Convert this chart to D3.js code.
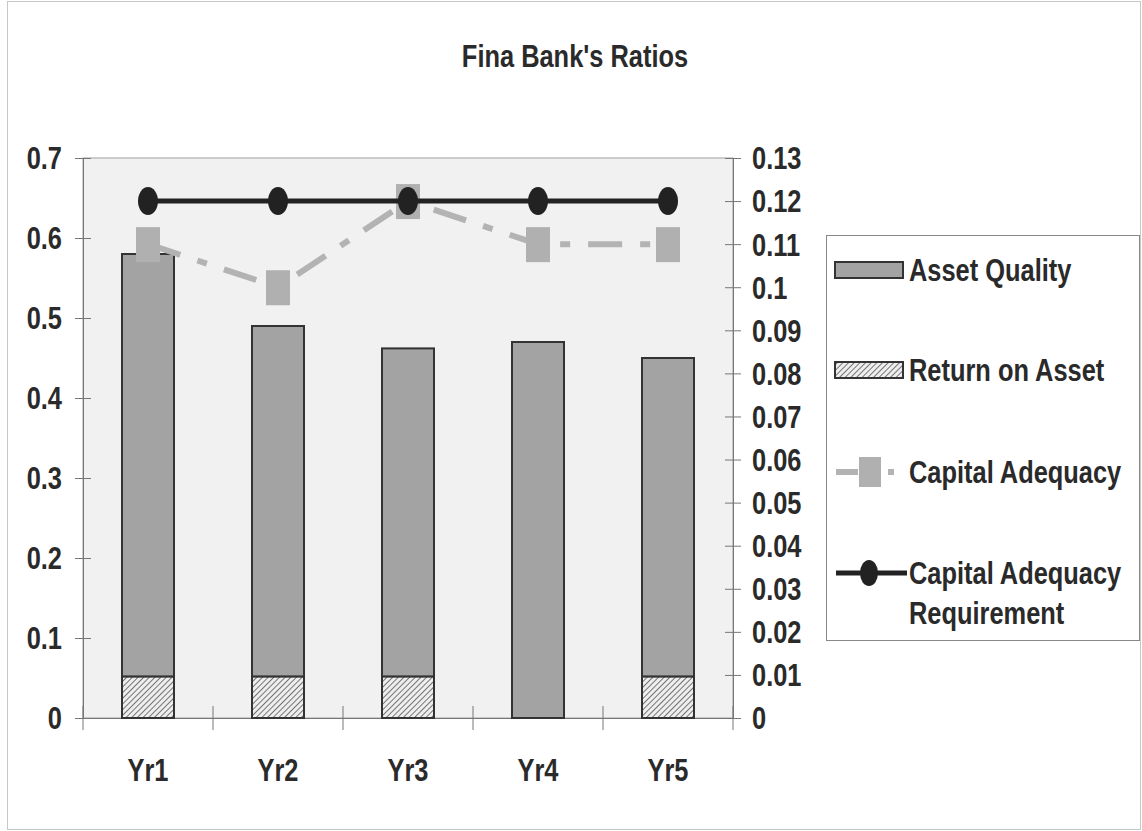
<!DOCTYPE html>
<html>
<head>
<meta charset="utf-8">
<script src="https://cdn.jsdelivr.net/npm/d3@7"></script>
<style>
  body { margin: 0; background: #fff; }
  text { font-family: "Liberation Sans Narrow", "Arial Narrow", "Liberation Sans", sans-serif; font-weight: bold; fill: #2a2a2a; }
</style>
</head>
<body>
<div id="chart"></div>
<script>
// Chart data
const years = ['Yr1', 'Yr2', 'Yr3', 'Yr4', 'Yr5'];
const returnOnAsset = [0.052, 0.052, 0.052, 0, 0.052];
const assetQuality = [0.528, 0.438, 0.41, 0.47, 0.398];
const capitalAdequacy = [0.11, 0.10, 0.12, 0.11, 0.11];
const capitalRequirement = [0.12, 0.12, 0.12, 0.12, 0.12];
const leftTicks = [0, 0.1, 0.2, 0.3, 0.4, 0.5, 0.6, 0.7];
const rightTicks = [0, 0.01, 0.02, 0.03, 0.04, 0.05, 0.06, 0.07, 0.08, 0.09, 0.1, 0.11, 0.12, 0.13];

const W = 1142, H = 831;
const plot = { left: 83, right: 733, top: 158, bottom: 718 };
const FS = '31px';
const NARROW = 0.82; // squeeze to mimic a narrow face

const svg = d3.select('#chart').append('svg')
  .attr('width', W).attr('height', H);

// hatch pattern for Return on Asset
const defs = svg.append('defs');
const pat = defs.append('pattern')
  .attr('id', 'hatch')
  .attr('patternUnits', 'userSpaceOnUse')
  .attr('width', 4).attr('height', 4)
  .attr('patternTransform', 'rotate(45)');
pat.append('rect').attr('width', 4).attr('height', 4).attr('fill', '#eeeeee');
pat.append('line').attr('x1', 0).attr('y1', 0).attr('x2', 0).attr('y2', 4)
  .attr('stroke', '#555').attr('stroke-width', 1.6);

// outer border
svg.append('rect')
  .attr('x', 7.5).attr('y', 1.5).attr('width', W - 9).attr('height', H - 3)
  .attr('fill', 'none').attr('stroke', '#c8c8c8');

// places a squeezed text label
function label(g, x, y, txt, anchor) {
  return g.append('text')
    .attr('transform', `translate(${x},${y}) scale(${NARROW},1)`)
    .attr('text-anchor', anchor || 'start')
    .attr('dy', '0.35em')
    .style('font-size', FS)
    .text(txt);
}

// title
label(svg, 575, 56, "Fina Bank's Ratios", 'middle');

// scales
const x = d3.scaleBand().domain(years).range([plot.left, plot.right])
  .paddingInner(0.6).paddingOuter(0.3);
const yL = d3.scaleLinear().domain([0, 0.7]).range([plot.bottom, plot.top]);
const yR = d3.scaleLinear().domain([0, 0.13]).range([plot.bottom, plot.top]);

// plot background
svg.append('rect')
  .attr('x', plot.left).attr('y', plot.top)
  .attr('width', plot.right - plot.left).attr('height', plot.bottom - plot.top)
  .attr('fill', '#f1f1f1').attr('stroke', '#a0a0a0').attr('stroke-width', 1);

// axes
const leftAxis = svg.append('g')
  .attr('transform', `translate(${plot.left},0)`)
  .call(d3.axisLeft(yL).tickValues(leftTicks).tickFormat(d => +d.toFixed(1)).tickSizeOuter(0));
leftAxis.selectAll('.tick line').attr('x1', -8).attr('x2', 8).attr('stroke', '#777');
leftAxis.select('.domain').attr('stroke', '#777');
leftAxis.selectAll('text')
  .attr('x', null).attr('dy', '0.35em')
  .attr('transform', `translate(-21,0) scale(${NARROW},1)`)
  .attr('fill', '#2a2a2a')
  .style('font-size', FS);

const rightAxis = svg.append('g')
  .attr('transform', `translate(${plot.right},0)`)
  .call(d3.axisRight(yR).tickValues(rightTicks).tickFormat(d => +d.toFixed(2)).tickSizeOuter(0));
rightAxis.selectAll('.tick line').attr('x1', -8).attr('x2', 8).attr('stroke', '#777');
rightAxis.select('.domain').attr('stroke', '#777');
rightAxis.selectAll('text')
  .attr('x', null).attr('dy', '0.35em')
  .attr('transform', `translate(19,0) scale(${NARROW},1)`)
  .attr('fill', '#2a2a2a')
  .style('font-size', FS);

const bottomAxis = svg.append('g')
  .attr('transform', `translate(0,${plot.bottom})`)
  .call(d3.axisBottom(x).tickSize(0));
bottomAxis.select('.domain').attr('stroke', '#777');
bottomAxis.selectAll('text')
  .attr('y', null).attr('dy', '0.35em')
  .attr('transform', `translate(0,52) scale(${NARROW},1)`)
  .attr('fill', '#2a2a2a')
  .style('font-size', FS);
// category separator ticks
const step = x.step();
svg.append('g').selectAll('line')
  .data(d3.range(years.length + 1))
  .join('line')
  .attr('x1', i => plot.left + i * step).attr('x2', i => plot.left + i * step)
  .attr('y1', plot.bottom - 12).attr('y2', plot.bottom + 12)
  .attr('stroke', '#777');

// stacked bars
const stacked = years.map((yr, i) => ({ yr, roa: returnOnAsset[i], aq: assetQuality[i] }));
svg.append('g').selectAll('rect')
  .data(stacked.filter(d => d.roa > 0))
  .join('rect')
  .attr('x', d => x(d.yr)).attr('width', x.bandwidth())
  .attr('y', d => yL(d.roa)).attr('height', d => yL(0) - yL(d.roa))
  .attr('fill', 'url(#hatch)').attr('stroke', '#333').attr('stroke-width', 2);
svg.append('g').selectAll('rect')
  .data(stacked)
  .join('rect')
  .attr('x', d => x(d.yr)).attr('width', x.bandwidth())
  .attr('y', d => yL(d.roa + d.aq)).attr('height', d => yL(d.roa) - yL(d.roa + d.aq))
  .attr('fill', '#a3a3a3').attr('stroke', '#333').attr('stroke-width', 2);

const cx = d => x(d) + x.bandwidth() / 2;

// capital adequacy (dashed grey with squares)
svg.append('path')
  .datum(years.map((yr, i) => [cx(yr), yR(capitalAdequacy[i])]))
  .attr('d', d3.line())
  .attr('fill', 'none').attr('stroke', '#b3b3b3').attr('stroke-width', 6)
  .attr('stroke-dasharray', '34,18,10,18');
svg.append('g').selectAll('rect')
  .data(years.map((yr, i) => ({ yr, v: capitalAdequacy[i] })))
  .join('rect')
  .attr('x', d => cx(d.yr) - 12).attr('y', d => yR(d.v) - 17)
  .attr('width', 24).attr('height', 35)
  .attr('fill', '#b0b0b0');

// capital adequacy requirement (black with circles)
svg.append('path')
  .datum(years.map((yr, i) => [cx(yr), yR(capitalRequirement[i])]))
  .attr('d', d3.line())
  .attr('fill', 'none').attr('stroke', '#222').attr('stroke-width', 5);
svg.append('g').selectAll('ellipse')
  .data(years.map((yr, i) => ({ yr, v: capitalRequirement[i] })))
  .join('ellipse')
  .attr('cx', d => cx(d.yr)).attr('cy', d => yR(d.v))
  .attr('rx', 10).attr('ry', 14)
  .attr('fill', '#222');

// legend
const lg = svg.append('g');
lg.append('rect')
  .attr('x', 826.5).attr('y', 235.5).attr('width', 313).attr('height', 405)
  .attr('fill', '#fff').attr('stroke', '#888');

const legendItems = [
  { label: ['Asset Quality'], y: 270, type: 'aq' },
  { label: ['Return on Asset'], y: 370, type: 'roa' },
  { label: ['Capital Adequacy'], y: 472, type: 'ca' },
  { label: ['Capital Adequacy', 'Requirement'], y: 573, type: 'req' }
];
legendItems.forEach(it => {
  if (it.type === 'aq' || it.type === 'roa') {
    lg.append('rect')
      .attr('x', 835).attr('y', it.y - 8).attr('width', 68).attr('height', 16)
      .attr('fill', it.type === 'aq' ? '#a3a3a3' : 'url(#hatch)')
      .attr('stroke', '#333').attr('stroke-width', 2);
  } else if (it.type === 'ca') {
    lg.append('line').attr('x1', 836).attr('x2', 900).attr('y1', it.y).attr('y2', it.y)
      .attr('stroke', '#b3b3b3').attr('stroke-width', 6).attr('stroke-dasharray', '22,30,6,40');
    lg.append('rect').attr('x', 859).attr('y', it.y - 15).attr('width', 22).attr('height', 30)
      .attr('fill', '#b0b0b0');
  } else {
    lg.append('line').attr('x1', 836).attr('x2', 907).attr('y1', it.y).attr('y2', it.y)
      .attr('stroke', '#222').attr('stroke-width', 5);
    lg.append('ellipse').attr('cx', 869).attr('cy', it.y).attr('rx', 9).attr('ry', 13)
      .attr('fill', '#222');
  }
  it.label.forEach((l, j) => label(lg, 909, it.y + j * 40, l));
});
</script>
</body>
</html>
